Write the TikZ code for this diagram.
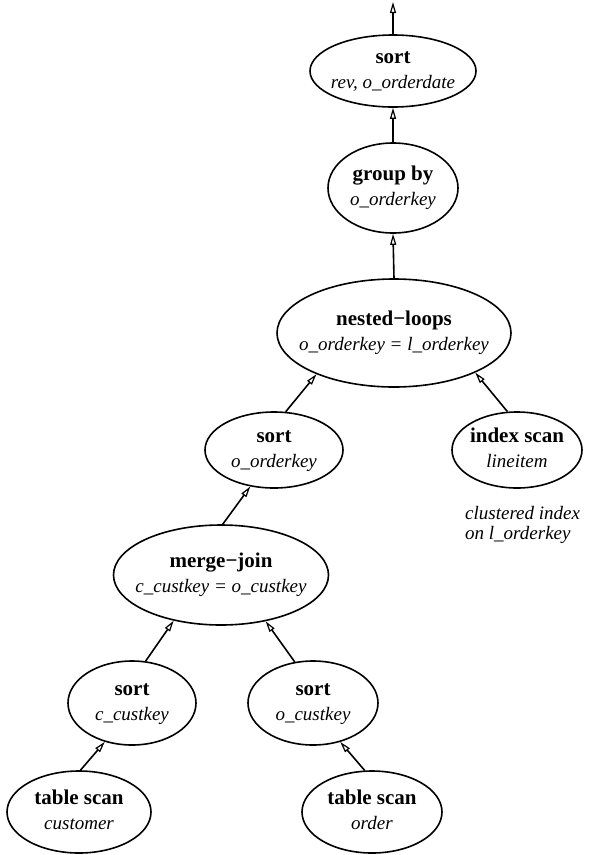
\documentclass[tikz,border=0pt]{standalone}
\usepackage{fontspec}
\setmainfont{Liberation Serif}
\usetikzlibrary{shapes.geometric,arrows.meta}
\newcommand{\nodetext}[2]{\makebox[0pt]{\raisebox{8pt}[0pt][0pt]{\fontsize{21}{25}\selectfont\begin{tabular}[t]{@{}c@{}}\bfseries #1\\\fontsize{19}{25}\selectfont\itshape #2\end{tabular}}}}
\begin{document}
\begin{tikzpicture}[x=1pt,y=-1pt,
  ell/.style={draw, ellipse, line width=1.6pt, inner sep=0pt},
  flow/.style={line width=1.6pt, -{Triangle[open,length=11pt,width=6pt,line width=1.2pt]}}]
\useasboundingbox (0,0) rectangle (596,855);
\node[ell, minimum width=166pt, minimum height=72pt] (srt1) at (393,71) {\nodetext{sort}{rev, o\_orderdate}};
\node[ell, minimum width=130pt, minimum height=90pt] (grp) at (393,188) {\nodetext{group by}{o\_orderkey}};
\node[ell, minimum width=234pt, minimum height=108pt] (nl) at (394,333) {\nodetext{nested−loops}{o\_orderkey = l\_orderkey}};
\node[ell, minimum width=138pt, minimum height=76pt] (so) at (274,450) {\nodetext{sort}{o\_orderkey}};
\node[ell, minimum width=130pt, minimum height=76pt] (is) at (517,450) {\nodetext{index scan}{lineitem}};
\node[anchor=base west, inner sep=0pt, font=\fontsize{19}{20}\selectfont\itshape] (note) at (465,519) {\begin{tabular}[t]{@{}l@{}}clustered index\\on l\_orderkey\end{tabular}};
\node[ell, minimum width=215pt, minimum height=100pt] (mj) at (221,575) {\nodetext{merge−join}{c\_custkey = o\_custkey}};
\node[ell, minimum width=128pt, minimum height=84pt] (sc) at (132,703) {\nodetext{sort}{c\_custkey}};
\node[ell, minimum width=130pt, minimum height=84pt] (sok) at (313,703) {\nodetext{sort}{o\_custkey}};
\node[ell, minimum width=144pt, minimum height=82pt] (tc) at (79,812) {\nodetext{table scan}{customer}};
\node[ell, minimum width=140pt, minimum height=82pt] (to) at (372,812) {\nodetext{table scan}{order}};
\coordinate (out) at (393,2);
\draw[flow] (srt1.north) -- (out);
\draw[flow] (grp.north) -- (srt1.south);
\draw[flow] (nl.north) -- (grp.south);
\draw[flow] (so.73) -- (nl.208);
\draw[flow] (is.104) -- (nl.334);
\draw[flow] (mj.88) -- (so.237);
\draw[flow] (sc.72) -- (mj.224);
\draw[flow] (sok.114) -- (mj.314);
\draw[flow] (tc.88) -- (sc.235);
\draw[flow] (to.100) -- (sok.305);
\end{tikzpicture}
\end{document}
